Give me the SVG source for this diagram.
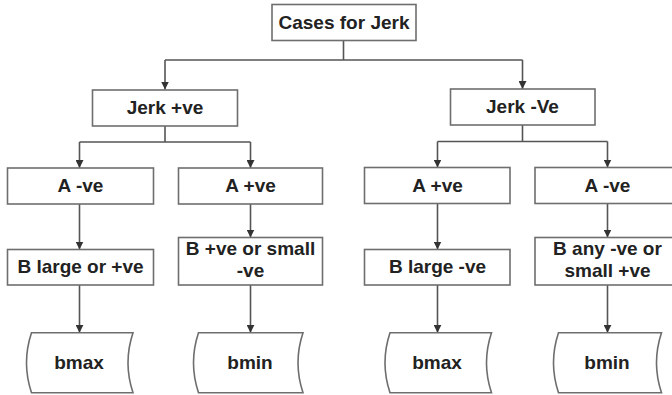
<svg xmlns="http://www.w3.org/2000/svg" width="672" height="395" viewBox="0 0 672 395">
  <defs>
    <marker id="arrow" viewBox="0 0 10 10" refX="10" refY="5" markerWidth="8" markerHeight="8" markerUnits="userSpaceOnUse" orient="auto">
      <path d="M0,0 L10,5 L0,10 Z" fill="#333"/>
    </marker>
    <style>
      .box { fill: #fff; stroke: #6e6e6e; stroke-width: 1.6; }
      .lbl { font-family: "Liberation Sans", Arial, sans-serif; font-weight: bold; font-size: 19px; fill: #222; text-anchor: middle; }
      .wire { fill: none; stroke: #555; stroke-width: 1.6; }
      .arr { marker-end: url(#arrow); }
    </style>
  </defs>
  <rect width="672" height="395" fill="#fff"/>

  <!-- connectors -->
  <g id="connectors">
    <path class="wire" d="M343.5,40.7 V60 M165,60 H522.5"/>
    <path class="wire arr" d="M165,60 V89.5"/>
    <path class="wire arr" d="M522.5,60 V89"/>

    <path class="wire" d="M165,126 V142 M79.5,142 H250.5"/>
    <path class="wire arr" d="M79.5,142 V168"/>
    <path class="wire arr" d="M250.5,142 V168"/>

    <path class="wire" d="M522.5,125 V141.5 M437.5,141.5 H607.5"/>
    <path class="wire arr" d="M437.5,141.5 V167.5"/>
    <path class="wire arr" d="M607.5,141.5 V167.5"/>

    <path class="wire arr" d="M79.5,204 V249.5"/>
    <path class="wire arr" d="M250.5,204 V237.5"/>
    <path class="wire arr" d="M437.5,203.5 V249.5"/>
    <path class="wire arr" d="M607.5,203.5 V237.5"/>

    <path class="wire arr" d="M79.5,285 V332.7"/>
    <path class="wire arr" d="M250.5,285 V332.7"/>
    <path class="wire arr" d="M437.5,285 V332.7"/>
    <path class="wire arr" d="M607.5,285 V332.7"/>
  </g>

  <g id="root">
    <rect class="box" x="272" y="4.5" width="144" height="36"/>
    <text class="lbl" x="344" y="28.5">Cases for Jerk</text>
  </g>

  <g id="jerk-pos">
    <rect class="box" x="92.5" y="90" width="145" height="36"/>
    <text class="lbl" x="165" y="114">Jerk +ve</text>
  </g>
  <g id="jerk-neg">
    <rect class="box" x="450.5" y="89" width="144.5" height="36"/>
    <text class="lbl" x="522.5" y="113">Jerk -Ve</text>
  </g>

  <g id="a-neg-1">
    <rect class="box" x="7.5" y="168" width="146" height="36"/>
    <text class="lbl" x="80.5" y="192">A -ve</text>
  </g>
  <g id="a-pos-1">
    <rect class="box" x="178.5" y="168" width="144" height="36"/>
    <text class="lbl" x="250.5" y="192">A +ve</text>
  </g>
  <g id="a-pos-2">
    <rect class="box" x="364.5" y="167.5" width="145.5" height="36"/>
    <text class="lbl" x="437.5" y="191.5">A +ve</text>
  </g>
  <g id="a-neg-2">
    <rect class="box" x="535" y="167.5" width="145" height="36"/>
    <text class="lbl" x="607.5" y="191.5">A -ve</text>
  </g>

  <g id="b-1">
    <rect class="box" x="7.5" y="249.5" width="146" height="35.5"/>
    <text class="lbl" x="80.5" y="272.5">B large or +ve</text>
  </g>
  <g id="b-2">
    <rect class="box" x="178.5" y="237.5" width="144" height="47.5"/>
    <text class="lbl" x="250.5" y="255">B +ve or small</text>
    <text class="lbl" x="250.5" y="277">-ve</text>
  </g>
  <g id="b-3">
    <rect class="box" x="364.5" y="249.5" width="145.5" height="35.5"/>
    <text class="lbl" x="437.5" y="272.5">B large -ve</text>
  </g>
  <g id="b-4">
    <rect class="box" x="535" y="237.5" width="145" height="47.5"/>
    <text class="lbl" x="607.5" y="255">B any -ve or</text>
    <text class="lbl" x="607.5" y="277">small +ve</text>
  </g>

  <g id="out-1">
    <path class="box" d="M31.5,332.7 H133 Q123,362.7 133,392.7 H31.5 Q21.5,362.7 31.5,332.7 Z"/>
    <text class="lbl" x="79" y="369">bmax</text>
  </g>
  <g id="out-2">
    <path class="box" d="M198.5,332.7 H303 Q293,362.7 303,392.7 H198.5 Q188.5,362.7 198.5,332.7 Z"/>
    <text class="lbl" x="250" y="369">bmin</text>
  </g>
  <g id="out-3">
    <path class="box" d="M390,332.7 H491.5 Q481.5,362.7 491.5,392.7 H390 Q380,362.7 390,332.7 Z"/>
    <text class="lbl" x="437" y="369">bmax</text>
  </g>
  <g id="out-4">
    <path class="box" d="M558.5,332.7 H661.5 Q651.5,362.7 661.5,392.7 H558.5 Q548.5,362.7 558.5,332.7 Z"/>
    <text class="lbl" x="607" y="369">bmin</text>
  </g>
</svg>
